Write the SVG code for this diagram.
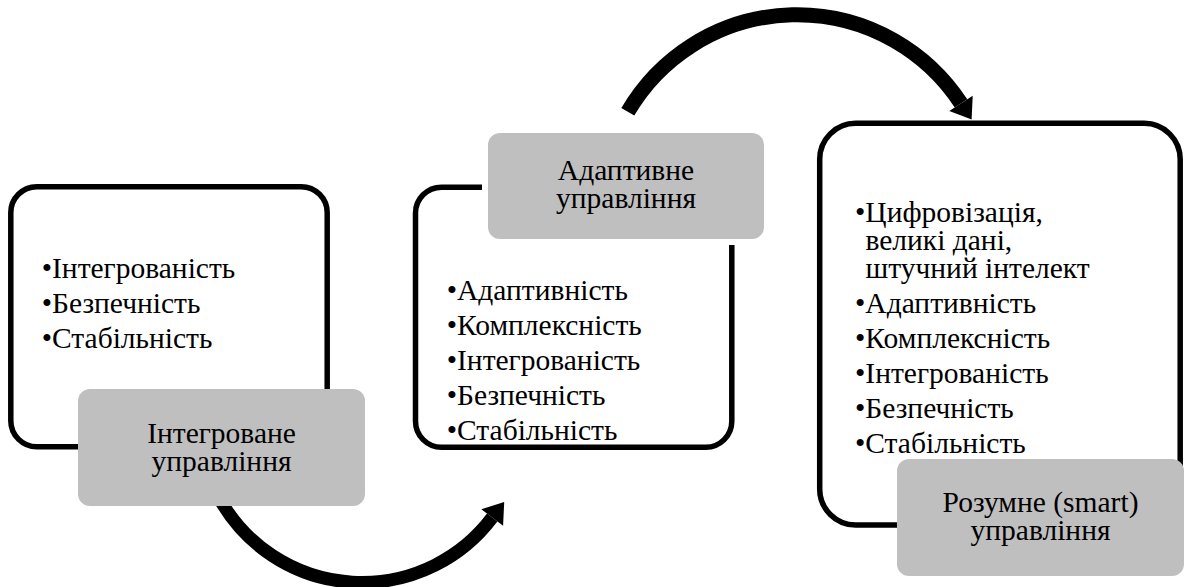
<svg xmlns="http://www.w3.org/2000/svg" width="1186" height="587" viewBox="0 0 1186 587">
  <style>
    .frame { fill: #ffffff; stroke: #000000; stroke-width: 5.5; }
    .label { fill: #bfbfbf; stroke: none; }
    .gap { fill: #ffffff; stroke: none; }
    text { font-family: 'Liberation Serif', 'Times New Roman', serif; font-size: 29.5px; fill: #000000; }
    .mid { text-anchor: middle; }
    .band { fill: none; stroke: #000000; stroke-linecap: butt; }
    .head { fill: #000000; stroke: none; }
  </style>
  <rect width="1186" height="587" fill="#ffffff"/>

  <g id="connectors">
    <path class="band" stroke-width="13" d="M 220.8 500.9 A 163 163 0 0 0 492.2 517.5"/>
    <polygon class="head" points="481.3,509.3 503.1,525.7 504.2,502.0"/>
    <path class="band" stroke-width="15" d="M 627.8 111.8 A 196 196 0 0 1 961.0 103.4"/>
    <polygon class="head" points="949.3,111.0 972.7,95.7 971.6,119.6"/>
  </g>

  <g id="node-integrated">
    <rect class="frame" x="10.8" y="186.7" width="316.4" height="260" rx="26" ry="26"/>
    <text x="41.7" y="278">•Інтегрованість</text>
    <text x="41.7" y="313">•Безпечність</text>
    <text x="41.7" y="348">•Стабільність</text>
    <rect class="label" x="78" y="389" width="287" height="117" rx="12" ry="12"/>
    <text class="mid" x="221.5" y="443">Інтегроване</text>
    <text class="mid" x="221.5" y="471">управління</text>
  </g>

  <g id="node-adaptive">
    <rect class="frame" x="415.5" y="187.2" width="316.3" height="260" rx="26" ry="26"/>
    <text x="446.7" y="300">•Адаптивність</text>
    <text x="446.7" y="335">•Комплексність</text>
    <text x="446.7" y="370">•Інтегрованість</text>
    <text x="446.7" y="405">•Безпечність</text>
    <text x="446.7" y="440">•Стабільність</text>
    <rect class="gap" x="482" y="127" width="288" height="118" rx="16" ry="16"/>
    <rect class="label" x="488" y="133" width="276" height="106" rx="12" ry="12"/>
    <text class="mid" x="626" y="180">Адаптивне</text>
    <text class="mid" x="626" y="208">управління</text>
  </g>

  <g id="node-smart">
    <rect class="frame" x="819.7" y="123.3" width="360.5" height="401.7" rx="36" ry="36"/>
    <text x="855" y="222">•Цифровізація,</text>
    <text x="865.5" y="250">великі дані,</text>
    <text x="865.5" y="278">штучний інтелект</text>
    <text x="855" y="313">•Адаптивність</text>
    <text x="855" y="348">•Комплексність</text>
    <text x="855" y="383">•Інтегрованість</text>
    <text x="855" y="418">•Безпечність</text>
    <text x="855" y="453">•Стабільність</text>
    <rect class="label" x="897" y="459" width="287" height="117" rx="12" ry="12"/>
    <text class="mid" x="1040.5" y="512">Розумне (smart)</text>
    <text class="mid" x="1040.5" y="540">управління</text>
  </g>
</svg>
